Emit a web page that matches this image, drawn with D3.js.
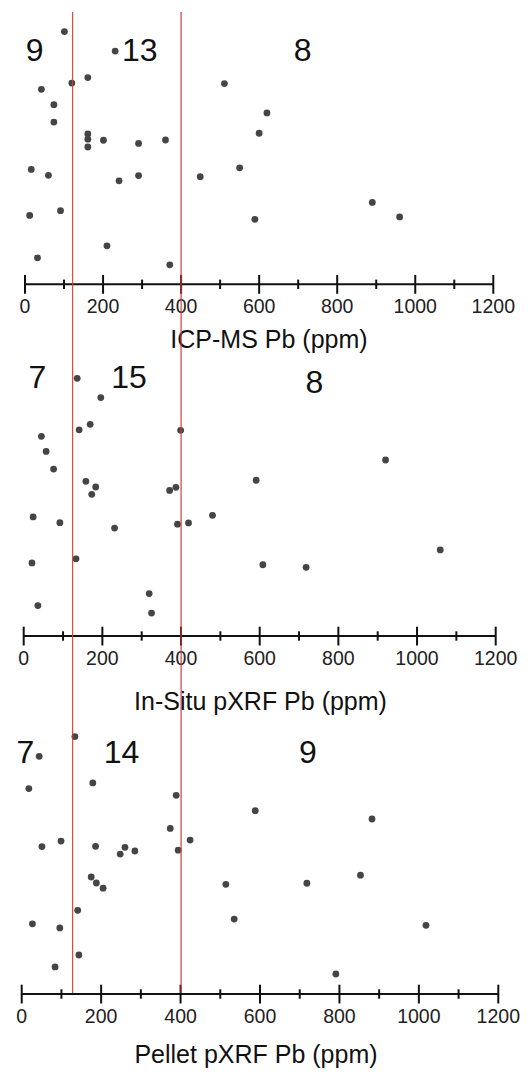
<!DOCTYPE html>
<html><head><meta charset="utf-8">
<script src="https://cdn.jsdelivr.net/npm/d3@7"></script>
<style>html,body{margin:0;padding:0;background:#fff;}svg{display:block;}</style>
</head><body>
<svg id="c" width="532" height="1072"></svg>
<script>
// ---- data ----
const axisTitles = ["ICP-MS Pb (ppm)", "In-Situ pXRF Pb (ppm)", "Pellet pXRF Pb (ppm)"];
const tickValues = [0, 200, 400, 600, 800, 1000, 1200];
const tickLabels = ["0", "200", "400", "600", "800", "1000", "1200"];
const minorTickValues = [100, 300, 500, 700, 900, 1100];
const thresholds = [122, 400];
const groupCounts = [["9", "13", "8"], ["7", "15", "8"], ["7", "14", "9"]];

const icpmsPb = [101, 231, 161, 120, 42, 511, 74, 74, 620, 600, 161, 161, 161, 201, 291, 360, 16, 60, 241, 291, 449, 550, 12, 91, 890, 589, 960, 210, 32, 371];
const icpmsJitter = [0.972, 0.897, 0.795, 0.774, 0.750, 0.772, 0.691, 0.624, 0.659, 0.581, 0.578, 0.558, 0.528, 0.554, 0.542, 0.555, 0.442, 0.419, 0.398, 0.418, 0.414, 0.448, 0.265, 0.283, 0.315, 0.250, 0.259, 0.148, 0.102, 0.075];

const insituPb = [136, 196, 169, 141, 399, 45, 57, 76, 920, 158, 183, 173, 371, 387, 591, 24, 92, 231, 391, 419, 480, 21, 133, 608, 718, 1059, 319, 325, 36];
const insituJitter = [0.991, 0.917, 0.814, 0.793, 0.791, 0.768, 0.710, 0.642, 0.677, 0.595, 0.573, 0.545, 0.560, 0.572, 0.599, 0.458, 0.436, 0.415, 0.430, 0.435, 0.464, 0.281, 0.297, 0.274, 0.264, 0.331, 0.163, 0.088, 0.117];

const pelletPb = [134, 44, 18, 179, 389, 588, 882, 374, 424, 51, 99, 186, 248, 260, 285, 394, 175, 188, 205, 514, 718, 853, 141, 27, 96, 535, 1018, 144, 84, 791];
const pelletJitter = [0.990, 0.914, 0.790, 0.812, 0.764, 0.705, 0.673, 0.637, 0.592, 0.567, 0.588, 0.568, 0.538, 0.564, 0.550, 0.553, 0.450, 0.427, 0.407, 0.422, 0.426, 0.457, 0.322, 0.270, 0.254, 0.288, 0.264, 0.150, 0.104, 0.077];

// ---- layout ----
const panels = [
  {vals: icpmsPb, jit: icpmsJitter, axisY: 284.3, x0: 25, x1: 493.3, titleDy: 64, titleX: 269,
   countX: [34.7, 139.7, 302.7], countY: [61, 61, 61]},
  {vals: insituPb, jit: insituJitter, axisY: 636, x0: 23.7, x1: 495.7, titleDy: 74, titleX: 260.5,
   countX: [37.3, 129, 314.3], countY: [387.7, 387.7, 392.7]},
  {vals: pelletPb, jit: pelletJitter, axisY: 994, x0: 21.7, x1: 498.3, titleDy: 69, titleX: 256,
   countX: [25.3, 121.5, 308], countY: [763, 763, 763]}
];

const svg = d3.select("#c");
const font = "'Liberation Sans', Arial, Helvetica, sans-serif";
let firstX = null;

panels.forEach((p, i) => {
  const x = d3.scaleLinear().domain([0, 1200]).range([p.x0, p.x1]);
  const y = d3.scaleLinear().domain([0, 1]).range([p.axisY, p.axisY - 260]);
  if (i === 0) firstX = x;
  const g = svg.append("g");

  // points
  g.selectAll("circle").data(p.vals.map((v, k) => [v, p.jit[k]])).join("circle")
    .attr("cx", d => x(d[0])).attr("cy", d => y(d[1])).attr("r", 3.4)
    .attr("fill", "#454545");

  // axis line
  g.append("line").attr("x1", x(0)).attr("x2", x(1200))
    .attr("y1", p.axisY).attr("y2", p.axisY)
    .attr("stroke", "#111").attr("stroke-width", 2);
  g.selectAll("line.major").data(tickValues).join("line").attr("class", "major")
    .attr("x1", d => x(d)).attr("x2", d => x(d))
    .attr("y1", p.axisY - 9.3).attr("y2", p.axisY + 9.5)
    .attr("stroke", "#111").attr("stroke-width", 2);
  g.selectAll("line.minor").data(minorTickValues).join("line").attr("class", "minor")
    .attr("x1", d => x(d)).attr("x2", d => x(d))
    .attr("y1", p.axisY - 4.7).attr("y2", p.axisY + 4.7)
    .attr("stroke", "#111").attr("stroke-width", 2);
  g.selectAll("text.tick").data(tickValues).join("text").attr("class", "tick")
    .attr("x", d => x(d)).attr("y", p.axisY + 28.5)
    .attr("text-anchor", "middle").attr("font-family", font).attr("font-size", 19.5)
    .attr("fill", "#222")
    .text((d, k) => tickLabels[k]);

  // axis title
  g.append("text").attr("x", p.titleX).attr("y", p.axisY + p.titleDy)
    .attr("text-anchor", "middle").attr("font-family", font).attr("font-size", 25)
    .attr("fill", "#111").text(axisTitles[i]);

  // group counts
  groupCounts[i].forEach((c, k) => {
    g.append("text").attr("x", p.countX[k]).attr("y", p.countY[k])
      .attr("text-anchor", "middle").attr("font-family", font).attr("font-size", 32)
      .attr("fill", "#111").text(c);
  });
});

// threshold lines (shared overlay)
svg.selectAll("line.thr").data(thresholds).join("line").attr("class", "thr")
  .attr("x1", d => firstX(d)).attr("x2", d => firstX(d))
  .attr("y1", 12).attr("y2", 993)
  .attr("stroke", "#d23a3a").attr("stroke-width", 1.3).attr("stroke-opacity", 0.9);
</script>
</body></html>
